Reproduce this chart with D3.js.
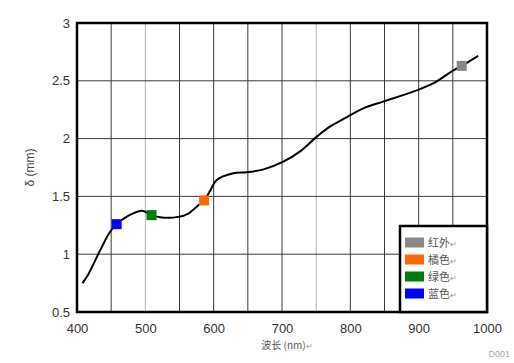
<!DOCTYPE html>
<html>
<head>
<meta charset="utf-8">
<script src="https://cdn.jsdelivr.net/npm/d3@7"></script>
<style>
  body { margin: 0; background: #fff; }
  svg { display: block; }
  .tick-label { font-family: Arial, "Liberation Sans", sans-serif; font-size: 13px; fill: #333; }
  .cjk { font-family: "Noto Sans CJK SC", sans-serif; }
</style>
</head>
<body>
<script>
// curve: wavelength (nm) and delta (mm)
var waveLen = [408, 416, 434, 448, 458, 470, 495, 509, 524, 548, 563, 578, 586, 595, 604, 629, 648, 673, 702, 726, 751, 770, 790, 819, 848, 892, 922, 948, 963, 987];
var delta   = [0.75, 0.82, 1.035, 1.19, 1.26, 1.315, 1.375, 1.338, 1.318, 1.323, 1.352, 1.425, 1.465, 1.55, 1.64, 1.70, 1.708, 1.734, 1.80, 1.887, 2.017, 2.103, 2.17, 2.262, 2.32, 2.406, 2.479, 2.58, 2.629, 2.716];
// coloured markers
var markerNames = ['蓝色', '绿色', '橘色', '红外'];
var markerX = [458, 509, 586, 963];
var markerY = [1.26, 1.338, 1.465, 2.629];
var markerColors = ['#0000ff', '#007a10', '#ff6a00', '#888888'];
// legend order (top to bottom)
var legendOrder = ['红外', '橘色', '绿色', '蓝色'];
var xTicks = [400, 500, 600, 700, 800, 900, 1000];
var yTicks = [0.5, 1, 1.5, 2, 2.5, 3];
var xGrid = d3.range(450, 1000, 50);
var lightGrid = [500, 750];

var w = 514, h = 363;
var pl = 77, pt = 23, pr = 487, pb = 312;

var svg = d3.select('body')
    .append('svg')
    .attr('width', w)
    .attr('height', h);

var x = d3.scaleLinear().domain([400, 1000]).range([pl, pr]);
var y = d3.scaleLinear().domain([0.5, 3]).range([pb, pt]);

// grid
svg.append('g')
    .selectAll('line')
    .data(xGrid)
    .enter()
    .append('line')
    .attr('x1', d => x(d)).attr('x2', d => x(d))
    .attr('y1', pt).attr('y2', pb)
    .attr('stroke', d => lightGrid.indexOf(d) >= 0 ? '#b4b4b4' : '#3a3a3a')
    .attr('stroke-width', 1);
svg.append('g')
    .selectAll('line')
    .data(yTicks.slice(1, -1))
    .enter()
    .append('line')
    .attr('x1', pl).attr('x2', pr)
    .attr('y1', d => y(d)).attr('y2', d => y(d))
    .attr('stroke', '#3a3a3a')
    .attr('stroke-width', 1);

// axes (labels only, frame drawn separately)
var xAxis = svg.append('g')
    .attr('transform', 'translate(0,' + pb + ')')
    .call(d3.axisBottom(x).tickValues(xTicks).tickSize(0).tickPadding(12).tickFormat(d3.format('d')));
var yAxis = svg.append('g')
    .attr('transform', 'translate(' + pl + ',0)')
    .call(d3.axisLeft(y).tickValues(yTicks).tickSize(0).tickPadding(7).tickFormat(d => String(d)));
[xAxis, yAxis].forEach(function(a) {
    a.select('.domain').remove();
    a.selectAll('text').attr('class', 'tick-label').attr('font-size', null).attr('font-family', null).attr('fill', null);
});

// curve
var pts = waveLen.map((d, i) => [d, delta[i]]);
svg.append('path')
    .datum(pts)
    .attr('fill', 'none')
    .attr('stroke', '#000')
    .attr('stroke-width', 2)
    .attr('d', d3.line().x(d => x(d[0])).y(d => y(d[1])).curve(d3.curveCatmullRom.alpha(0.5)));

// markers
svg.append('g')
    .selectAll('rect')
    .data(markerX)
    .enter()
    .append('rect')
    .attr('x', d => x(d) - 5)
    .attr('y', (d, i) => y(markerY[i]) - 5)
    .attr('width', 10)
    .attr('height', 10)
    .attr('fill', (d, i) => markerColors[i]);

// frame
svg.append('rect')
    .attr('x', pl).attr('y', pt)
    .attr('width', pr - pl).attr('height', pb - pt)
    .attr('fill', 'none')
    .attr('stroke', '#000')
    .attr('stroke-width', 2.5);

// legend
var lg = svg.append('g');
lg.append('rect')
    .attr('x', 400).attr('y', 226)
    .attr('width', pr - 400).attr('height', pb - 226)
    .attr('fill', '#fff')
    .attr('stroke', '#000')
    .attr('stroke-width', 2.5);
var items = lg.selectAll('g.item')
    .data(legendOrder)
    .enter()
    .append('g')
    .attr('class', 'item')
    .attr('transform', (d, i) => 'translate(405,' + (242.5 + i * 17) + ')');
items.append('rect')
    .attr('x', 0).attr('y', -5)
    .attr('width', 19).attr('height', 10)
    .attr('fill', d => markerColors[markerNames.indexOf(d)]);
var lt = items.append('text')
    .attr('class', 'cjk')
    .attr('x', 23)
    .attr('y', 4)
    .attr('font-size', 11)
    .attr('fill', '#555');
lt.append('tspan').text(d => d);
lt.append('tspan').attr('font-size', 8).attr('fill', '#999').text('↵');

// axis titles
svg.append('text')
    .attr('transform', 'translate(34,' + ((pt + pb) / 2) + ') rotate(-90)')
    .attr('text-anchor', 'middle')
    .attr('font-family', 'Arial, "Liberation Sans", sans-serif')
    .attr('font-size', 12)
    .attr('fill', '#444')
    .text('δ (mm)');
var xt = svg.append('text')
    .attr('class', 'cjk')
    .attr('x', 287)
    .attr('y', 349)
    .attr('text-anchor', 'middle')
    .attr('font-size', 10)
    .attr('fill', '#555');
xt.append('tspan').text('波长 (nm)');
xt.append('tspan').attr('font-size', 8).attr('fill', '#999').text('↵');

svg.append('text')
    .attr('x', 510)
    .attr('y', 357)
    .attr('text-anchor', 'end')
    .attr('font-family', 'Arial, "Liberation Sans", sans-serif')
    .attr('font-size', 9)
    .attr('fill', '#aaa')
    .text('D001');
</script>
</body>
</html>
